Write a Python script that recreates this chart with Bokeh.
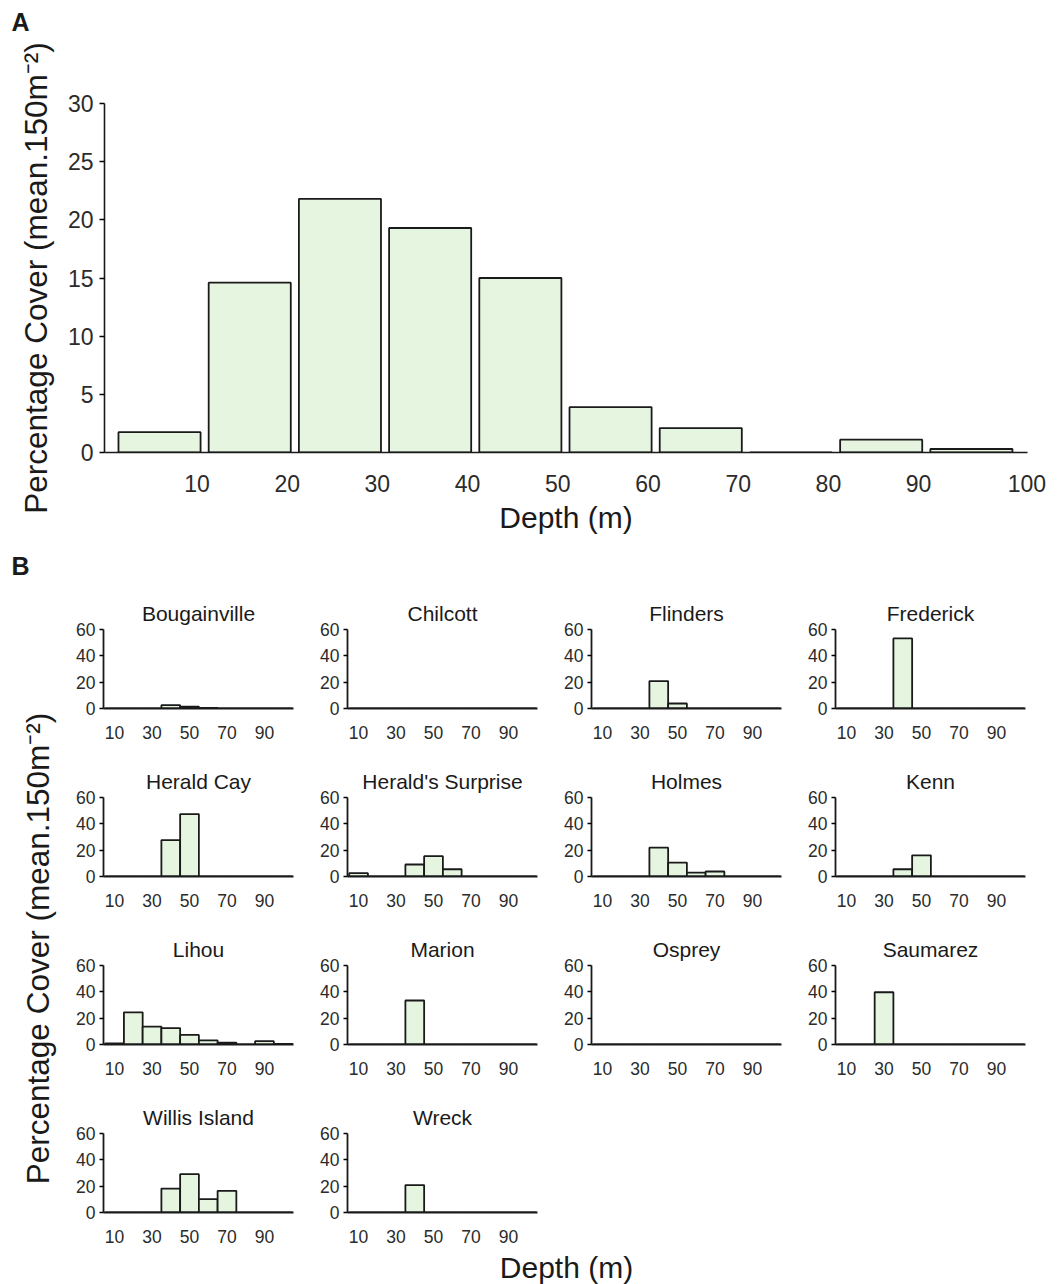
import math
from bokeh.plotting import figure
from bokeh.models import FixedTicker, Range1d, Title
from bokeh.layouts import column, row
from bokeh.embed import file_html
from bokeh.resources import INLINE
from bokeh.core.properties import value

FONT = "Liberation Sans"
FILL = "#e5f5e0"
EDGE = "#1a1a1a"
TXT = "#1a1a1a"
TICK_TXT = "#2b2b2b"

# ---------------- data ----------------
depth_bins = [10, 20, 30, 40, 50, 60, 70, 80, 90, 100]
overall_cover = [1.75, 14.6, 21.8, 19.3, 15.0, 3.9, 2.1, 0.0, 1.1, 0.3]

bougainville = [0, 0, 0, 2.5, 1.5, 0.5, 0, 0, 0, 0]
chilcott = [0, 0, 0, 0, 0, 0, 0, 0, 0, 0]
flinders = [0, 0, 0, 20.8, 3.8, 0, 0, 0, 0, 0]
frederick = [0, 0, 0, 53.2, 0, 0, 0, 0, 0, 0]
herald_cay = [0, 0, 0, 27.7, 47.4, 0, 0, 0, 0, 0]
heralds_surprise = [2.5, 0, 0, 9.1, 15.4, 5.5, 0, 0, 0, 0]
holmes = [0, 0, 0, 21.9, 10.6, 3.0, 3.8, 0, 0, 0]
kenn = [0, 0, 0, 5.5, 16.1, 0, 0, 0, 0, 0]
lihou = [0.8, 24.4, 13.6, 12.5, 7.3, 3.1, 1.5, 0, 2.5, 0.5]
marion = [0, 0, 0, 33.4, 0, 0, 0, 0, 0, 0]
osprey = [0, 0, 0, 0, 0, 0, 0, 0, 0, 0]
saumarez = [0, 0, 39.7, 0, 0, 0, 0, 0, 0, 0]
willis_island = [0, 0, 0, 18.2, 29.1, 10.1, 16.5, 0, 0, 0]
wreck = [0, 0, 0, 20.8, 0, 0, 0, 0, 0, 0]

site_names = ["Bougainville", "Chilcott", "Flinders", "Frederick",
              "Herald Cay", "Herald's Surprise", "Holmes", "Kenn",
              "Lihou", "Marion", "Osprey", "Saumarez",
              "Willis Island", "Wreck"]
site_values = [bougainville, chilcott, flinders, frederick,
               herald_cay, heralds_surprise, holmes, kenn,
               lihou, marion, osprey, saumarez,
               willis_island, wreck]

a_ticks = [0, 5, 10, 15, 20, 25, 30]
b_yticks = [0, 20, 40, 60]
b_xticks = [10, 30, 50, 70, 90]

Y_TITLE = "Percentage Cover (mean.150m\u207b\u00b2)"


def clean(p):
    p.outline_line_color = None
    p.xgrid.visible = False
    p.ygrid.visible = False
    p.background_fill_color = "white"
    p.border_fill_color = "white"


# ---------------- panel A ----------------
pA = figure(width=1058, height=592, output_backend="svg", toolbar_location=None,
            x_range=Range1d(-0.25, 102.07), y_range=Range1d(0, 30),
            min_border_left=104, min_border_right=31, min_border_top=103,
            min_border_bottom=140)
clean(pA)
pA.vbar(x=[d - 4.15 for d in depth_bins], width=9.1, top=overall_cover, bottom=0,
        fill_color=FILL, line_color=EDGE, line_width=1.8)

# spacer title (closest to the frame) then the panel letter above it
spacer = Title(text=" ", align="left", standoff=38,
               text_font=FONT, text_font_size="25px", text_color="white")
pA.add_layout(spacer, "above")
tA = Title(text="A", align="left", offset=-93, standoff=0,
           text_font=FONT, text_font_size="25px", text_font_style="bold",
           text_color=TXT)
pA.add_layout(tA, "above")
tB = Title(text="B", align="left", offset=-93, standoff=26,
           text_font=FONT, text_font_size="25px", text_font_style="bold",
           text_color=TXT)
pA.add_layout(tB, "below")

xa = pA.xaxis[0]
xa.ticker = FixedTicker(ticks=[10, 20, 30, 40, 50, 60, 70, 80, 90, 102])
xa.major_label_overrides = {102: "100"}
xa.major_tick_line_color = None
xa.minor_tick_line_color = None
xa.axis_line_width = 1.6
xa.axis_line_color = EDGE
xa.major_label_text_font = FONT
xa.major_label_text_font_size = "23px"
xa.major_label_text_color = TICK_TXT
xa.major_label_standoff = 16
xa.axis_label = "Depth (m)"
xa.axis_label_text_font = FONT
xa.axis_label_text_font_size = "30px"
xa.axis_label_text_font_style = "normal"
xa.axis_label_text_color = TXT
xa.axis_label_standoff = 6

ya = pA.yaxis[0]
ya.ticker = FixedTicker(ticks=a_ticks)
ya.major_tick_out = 5
ya.major_tick_in = 0
ya.major_tick_line_width = 1.5
ya.minor_tick_line_color = None
ya.axis_line_width = 1.6
ya.axis_line_color = EDGE
ya.major_label_text_font = FONT
ya.major_label_text_font_size = "23px"
ya.major_label_text_color = TICK_TXT
ya.major_label_standoff = 6
ya.axis_label = Y_TITLE
ya.axis_label_text_font = FONT
ya.axis_label_text_font_size = "31.5px"
ya.axis_label_text_font_style = "normal"
ya.axis_label_text_color = TXT
ya.axis_label_standoff = 11


# ---------------- panel B ----------------
def cell(name, vals, height, bottom):
    p = figure(width=244, height=height, output_backend="svg", toolbar_location=None,
               x_range=Range1d(4.1, 105.5), y_range=Range1d(0, 60),
               min_border_left=30, min_border_right=24, min_border_top=37,
               min_border_bottom=bottom, title=name)
    clean(p)
    p.title.align = "center"
    p.title.text_font = FONT
    p.title.text_font_size = "21px"
    p.title.text_font_style = "normal"
    p.title.text_color = TXT
    p.title.standoff = 9
    p.vbar(x=depth_bins, width=10, top=vals, bottom=0,
           fill_color=FILL, line_color=EDGE, line_width=1.8)
    xa = p.xaxis[0]
    xa.ticker = FixedTicker(ticks=b_xticks)
    xa.major_tick_line_color = None
    xa.minor_tick_line_color = None
    xa.axis_line_width = 1.8
    xa.axis_line_color = EDGE
    xa.major_label_text_font = FONT
    xa.major_label_text_font_size = "17.5px"
    xa.major_label_text_color = TICK_TXT
    xa.major_label_standoff = 11
    ya = p.yaxis[0]
    ya.ticker = FixedTicker(ticks=b_yticks)
    ya.major_tick_out = 4
    ya.major_tick_in = 0
    ya.major_tick_line_width = 1.5
    ya.minor_tick_line_color = None
    ya.axis_line_width = 1.8
    ya.axis_line_color = EDGE
    ya.major_label_text_font = FONT
    ya.major_label_text_font_size = "17.5px"
    ya.major_label_text_color = TICK_TXT
    ya.major_label_standoff = 4
    return p


rows = []
for r in range(4):
    figs = []
    for c in range(4):
        i = r * 4 + c
        if i >= len(site_names):
            break
        if r < 3:
            figs.append(cell(site_names[i], site_values[i], 168, 52))
        else:
            figs.append(cell(site_names[i], site_values[i], 150, 34))
    rows.append(row(*figs, spacing=0))
grid = column(*rows, spacing=0)

left = figure(width=73, height=654, output_backend="svg", toolbar_location=None,
              x_range=Range1d(0, 73), y_range=Range1d(0, 654),
              x_axis_location=None, y_axis_location=None, min_border=0)
clean(left)
left.text(x=[37], y=[654 - 356], text=[Y_TITLE], angle=math.pi / 2,
          text_align="center", text_baseline="middle", text_font=value(FONT),
          text_font_size="31.5px", text_color=TXT)

# bottom strip: its frame is aligned with panel A's frame (pixels 104..1027)
bottom = figure(width=1058, height=38, output_backend="svg", toolbar_location=None,
                x_range=Range1d(104, 1027), y_range=Range1d(0, 38),
                x_axis_location=None, y_axis_location=None, min_border=0)
clean(bottom)
bottom.text(x=[566], y=[17], text=["Depth (m)"], text_align="center",
            text_baseline="middle", text_font=value(FONT),
            text_font_size="30px", text_color=TXT)

layout = column(pA, row(left, grid, spacing=0), bottom, spacing=0)

open("out.html", "w").write(file_html(layout, INLINE))
